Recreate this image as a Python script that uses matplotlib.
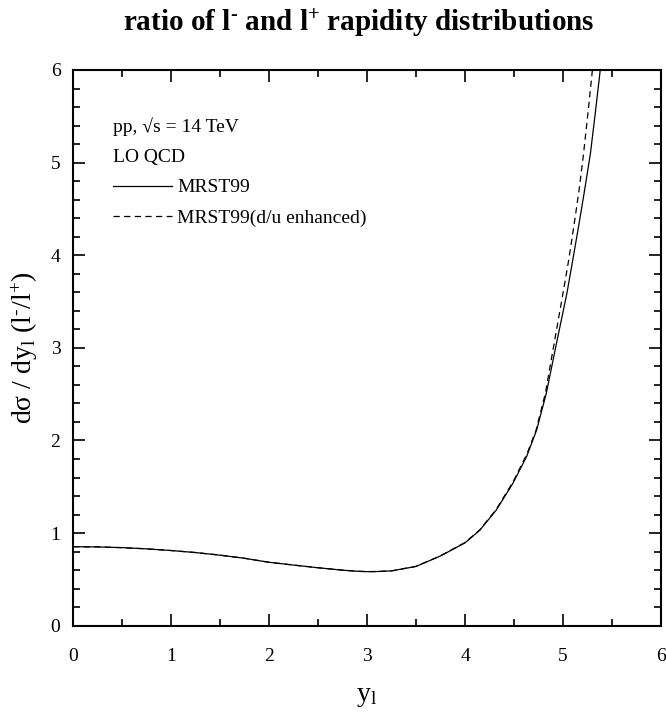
import matplotlib
matplotlib.use("Agg")
import matplotlib.pyplot as plt
from matplotlib.ticker import MultipleLocator

# values
y_solid_x = [0.0, 0.25, 0.5, 0.75, 1.0, 1.25, 1.5, 1.75, 2.0, 2.25, 2.5, 2.75,
             2.9, 3.0, 3.1, 3.25, 3.5, 3.75, 4.0, 4.15, 4.32, 4.49, 4.63, 4.73,
             4.83, 4.92, 5.04, 5.10, 5.17, 5.22, 5.28, 5.33, 5.38, 5.40]
ratio_solid = [0.853, 0.851, 0.843, 0.830, 0.812, 0.790, 0.762, 0.728, 0.685,
               0.655, 0.626, 0.600, 0.588, 0.584, 0.585, 0.592, 0.640, 0.753,
               0.895, 1.030, 1.250, 1.540, 1.830, 2.110, 2.510, 2.980, 3.590,
               3.950, 4.380, 4.700, 5.100, 5.540, 6.000, 6.150]

y_dash_x = [0.0, 0.25, 0.5, 0.75, 1.0, 1.25, 1.5, 1.75, 2.0, 2.25, 2.5, 2.75,
            2.9, 3.0, 3.1, 3.25, 3.5, 3.75, 4.0, 4.15, 4.32, 4.49, 4.63, 4.725,
            4.82, 4.885, 5.00, 5.06, 5.12, 5.165, 5.21, 5.255, 5.30, 5.32]
ratio_dash = [0.853, 0.851, 0.843, 0.830, 0.812, 0.790, 0.762, 0.728, 0.685,
              0.655, 0.626, 0.600, 0.588, 0.584, 0.585, 0.592, 0.641, 0.755,
              0.898, 1.034, 1.258, 1.553, 1.850, 2.110, 2.510, 2.900, 3.590,
              3.960, 4.380, 4.710, 5.100, 5.540, 6.000, 6.150]

x_ticks = [0, 1, 2, 3, 4, 5, 6]
y_ticks = [0, 1, 2, 3, 4, 5, 6]

plt.rcParams['font.family'] = ['Liberation Serif', 'DejaVu Serif']
plt.rcParams['mathtext.fontset'] = 'custom'
plt.rcParams['mathtext.rm'] = 'Liberation Serif'
plt.rcParams['mathtext.it'] = 'Liberation Serif:italic'
plt.rcParams['mathtext.bf'] = 'Liberation Serif:bold'
plt.rcParams['mathtext.default'] = 'regular'

fig = plt.figure(figsize=(6.66, 7.17), dpi=100)
ax = fig.add_axes([0.1096, 0.1273, 0.8829, 0.7751])

ax.plot(y_solid_x, ratio_solid, color='black', lw=0.9)
ax.plot(y_dash_x, ratio_dash, color='black', lw=0.9, linestyle=(0, (5, 3.5)))

ax.set_xlim(0, 6)
ax.set_ylim(0, 6)
ax.set_xticks(x_ticks)
ax.set_yticks(y_ticks)
ax.xaxis.set_minor_locator(MultipleLocator(0.5))
ax.yaxis.set_minor_locator(MultipleLocator(0.2))
ax.tick_params(which='both', direction='in', top=True, right=True,
               width=1.2, labelsize=14)
ax.tick_params(which='major', length=8.5)
ax.tick_params(which='minor', length=5)
ax.tick_params(axis='x', pad=16)
ax.tick_params(axis='y', pad=9)
for s in ax.spines.values():
    s.set_linewidth(1.5)

ax.set_xlabel(r'y$_\mathrm{l}$', fontsize=20, labelpad=14)
ax.set_ylabel('d\u03c3 / dy$_\\mathrm{l}$ (l$^{\u2010}$/l$^{+}$)', fontsize=20,
              labelpad=8)

fig.text(0.539, 1 - 31 / 717,
         'ratio of l$^{\u2010}$ and l$^{+}$ rapidity distributions',
         ha='center', va='baseline', fontsize=21, fontweight='bold')

# annotation block in the upper left
ax.text(0.0675, 0.889, 'pp, \u221as = 14 TeV', transform=ax.transAxes,
        fontsize=14, va='baseline')
ax.text(0.0675, 0.835, 'LO QCD', transform=ax.transAxes, fontsize=14,
        va='baseline')
ax.plot([0.0675, 0.168], [0.791, 0.791], transform=ax.transAxes,
        color='black', lw=0.9)
ax.text(0.177, 0.780, 'MRST99', transform=ax.transAxes, fontsize=14,
        va='baseline')
ax.plot([0.0675, 0.168], [0.738, 0.738], transform=ax.transAxes,
        color='black', lw=0.9, linestyle=(0, (5, 3.5)))
ax.text(0.177, 0.724, 'MRST99(d/u enhanced)', transform=ax.transAxes,
        fontsize=14, va='baseline')

fig.savefig('out.png', dpi=100)
